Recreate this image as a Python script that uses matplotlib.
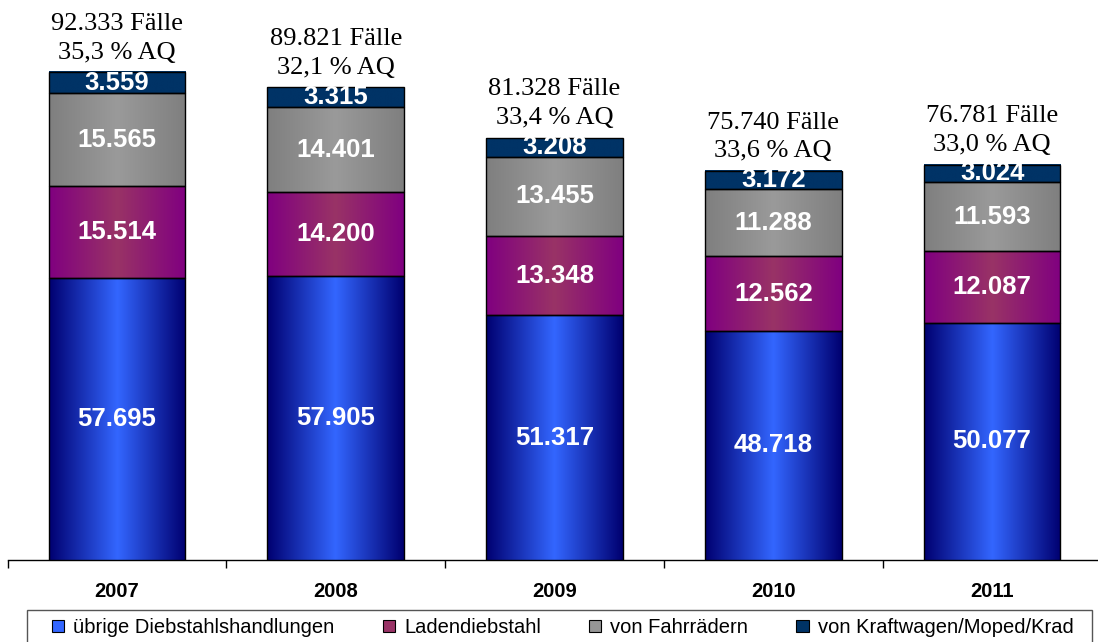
import numpy as np
import matplotlib
matplotlib.use("Agg")
import matplotlib.pyplot as plt
from matplotlib.colors import LinearSegmentedColormap
from matplotlib.patches import Patch, Rectangle

years = ['2007', '2008', '2009', '2010', '2011']
series = ['übrige Diebstahlshandlungen', 'Ladendiebstahl', 'von Fahrrädern',
          'von Kraftwagen/Moped/Krad']
uebrige = [57695, 57905, 51317, 48718, 50077]
laden = [15514, 14200, 13348, 12562, 12087]
fahrrad = [15565, 14401, 13455, 11288, 11593]
kraft = [3559, 3315, 3208, 3172, 3024]
faelle = [92333, 89821, 81328, 75740, 76781]
aq = ['35,3', '32,1', '33,4', '33,6', '33,0']

# (edge colour, centre colour) for the horizontal gradient
grad = [('#000070', '#3366ff'), ('#800080', '#993366'),
        ('#7f7f7f', '#9a9a9a'), ('#003366', '#003366')]
legend_cols = ['#3366ff', '#993366', '#969696', '#003366']

plt.rcParams['font.family'] = ['Liberation Sans', 'DejaVu Sans']

def de(v):
    return f"{v:,}".replace(',', '.')

fig = plt.figure(figsize=(10.98, 6.42), dpi=100)
ax = fig.add_axes([7.5 / 1098, 82 / 642, 1094 / 1098, 533 / 642])
x = np.arange(len(years))
width = 0.625
bottom = np.zeros(len(years))
profile = np.abs(np.linspace(-1, 1, 256))[None, :]
ymin = 10000

for vals, (c_edge, c_mid) in zip([uebrige, laden, fahrrad, kraft], grad):
    cmap = LinearSegmentedColormap.from_list('g', [c_mid, c_edge])
    bars = ax.bar(x, vals, width, bottom=bottom, facecolor='none',
                  edgecolor='black', linewidth=1.0, zorder=3)
    for b, v in zip(bars, vals):
        x0, y0, w, h = b.get_x(), b.get_y(), b.get_width(), b.get_height()
        ax.imshow(profile, cmap=cmap, vmin=0, vmax=1, aspect='auto',
                  extent=[x0, x0 + w, y0, y0 + h], zorder=2)
        lo = max(y0, ymin)
        ax.text(x0 + w / 2, (lo + y0 + h) / 2, de(v), ha='center', va='center',
                color='white', fontsize=18.5, fontweight='bold', zorder=4)
    bottom += np.array(vals)

for i, (f, q) in enumerate(zip(faelle, aq)):
    ax.annotate(f"{de(f)} Fälle\n{q} % AQ", (x[i], bottom[i]),
                xytext=(0, 6), textcoords='offset points', ha='center',
                va='bottom', fontsize=19, family='Liberation Serif',
                linespacing=1.4, annotation_clip=False)

ax.set_xlim(-0.5, 4.5)
ax.set_ylim(ymin, 100000)
for s in ['top', 'right', 'left']:
    ax.spines[s].set_visible(False)
ax.spines['bottom'].set_linewidth(1.0)
ax.set_yticks([])
ax.set_xticks(x)
ax.set_xticklabels(years, fontsize=14.5, fontweight='bold')
ax.tick_params(axis='x', which='major', length=0, pad=16)
ax.set_xticks(np.arange(-0.5, 5, 1), minor=True)
ax.tick_params(axis='x', which='minor', length=6, width=1.0, direction='out')

handles = [Patch(facecolor=c, edgecolor='black', linewidth=0.8) for c in legend_cols]
fig.legend(handles, series, loc='upper left', ncol=4,
           bbox_to_anchor=(46 / 1098, 1 - 612 / 642),
           fontsize=14.5, frameon=False,
           handlelength=0.6, handleheight=0.6, handletextpad=0.45,
           columnspacing=2.4, borderpad=0.3, borderaxespad=0)
fig.patches.append(Rectangle((27 / 1098, -0.02), (1092 - 27) / 1098,
                             0.02 + (642 - 610) / 642, transform=fig.transFigure,
                             facecolor='none', edgecolor='#555555',
                             linewidth=1.0))

fig.savefig('out.png', dpi=100)
